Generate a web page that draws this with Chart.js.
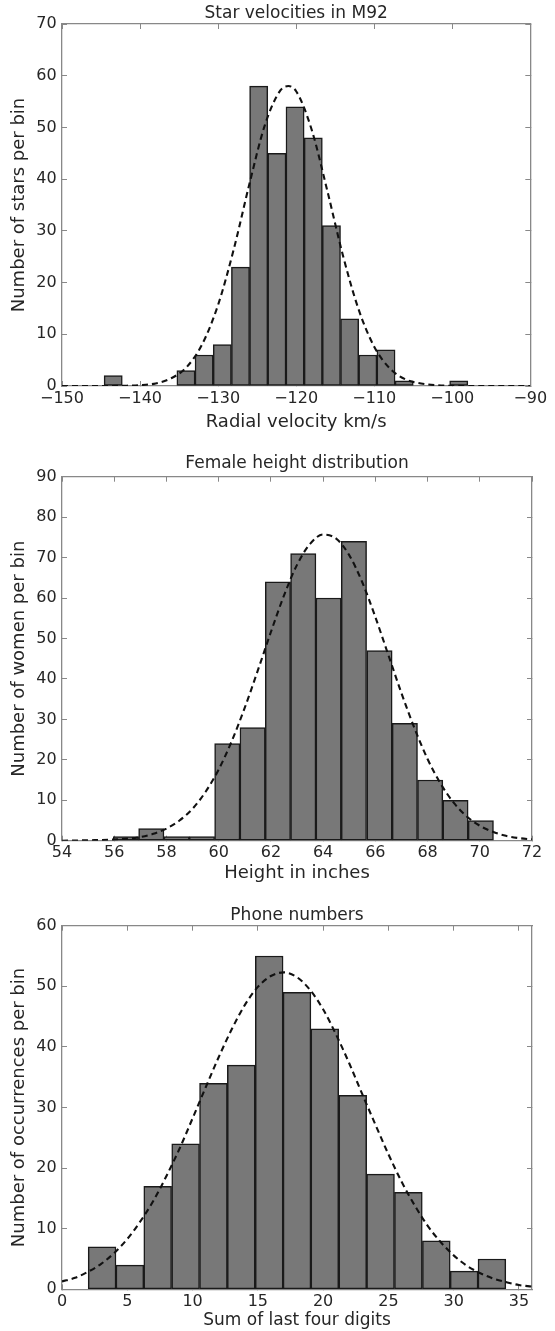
<!DOCTYPE html>
<html><head><meta charset="utf-8">
<script src="https://cdn.jsdelivr.net/npm/chart.js@4.4.1/dist/chart.umd.min.js"></script>
<style>
html,body{margin:0;padding:0;background:#fff;}
body{width:555px;height:1331px;position:relative;overflow:hidden;}
canvas{position:absolute;left:0;}
</style></head><body>
<canvas id="c1" width="555" height="440" style="top:0px"></canvas>
<canvas id="c2" width="555" height="450" style="top:440px"></canvas>
<canvas id="c3" width="555" height="441" style="top:890px"></canvas>
<script>
// ---------- Chart 1: Star velocities in M92 ----------
const starBinCenters = [-143.44,-141.11,-138.78,-136.45,-134.12,-131.79,-129.46,-127.13,-124.80,-122.47,-120.14,-117.81,-115.48,-113.15,-110.82,-108.49,-106.16,-103.83,-101.50,-99.17];
const starCounts = [2,0,0,0,3,6,8,23,58,45,54,48,31,13,6,7,1,0,0,1];
const starCurveX = [-150,-146,-142,-140,-138,-136,-134,-132,-130,-128,-126,-124,-122,-121,-120,-118,-116,-114,-112,-110,-108,-106,-104,-102,-100,-96,-90];
const starCurveY = [0,0,0.05,0.16,0.5,1.5,3.7,8.2,15.7,26.4,39,50.5,57.2,58,57,49.5,37.7,25.2,14.8,7.6,3.4,1.3,0.5,0.15,0.03,0,0];
const starXTicks = [-150,-140,-130,-120,-110,-100,-90];
const starYTicks = [0,10,20,30,40,50,60,70];

// ---------- Chart 2: Female height distribution ----------
const heightBinCenters = [56.45,57.42,58.39,59.36,60.33,61.30,62.27,63.24,64.21,65.18,66.16,67.13,68.10,69.07,70.04];
const heightCounts = [1,3,1,1,24,28,64,71,60,74,47,29,15,10,5];
const heightCurveX = [54,55,56,57,57.5,58,58.5,59,59.5,60,60.5,61,61.5,62,62.5,63,63.5,64,64.5,65,65.5,66,66.5,67,67.5,68,68.5,69,69.5,70,70.5,71,71.5,72];
const heightCurveY = [0,0.1,0.3,0.9,1.7,3.0,5.0,7.9,12.1,17.6,24.6,32.9,42.1,51.6,60.6,68.2,73.4,75.7,74.7,70.6,63.9,55.3,45.9,36.5,27.8,20.2,14.1,9.4,6.0,3.7,2.2,1.2,0.65,0.33];
const heightXTicks = [54,56,58,60,62,64,66,68,70,72];
const heightYTicks = [0,10,20,30,40,50,60,70,80,90];

// ---------- Chart 3: Phone numbers ----------
const phoneBinCenters = [3.07,5.20,7.33,9.47,11.60,13.73,15.87,18.00,20.13,22.27,24.40,26.53,28.67,30.80,32.93];
const phoneCounts = [7,4,17,24,34,37,55,49,43,32,19,16,8,3,5];
const phoneCurveX = [0,1,2,3,4,5,6,7,8,9,10,11,12,13,14,15,16,17,18,19,20,21,22,23,24,25,26,27,28,29,30,31,32,33,34,35,36];
const phoneCurveY = [1.3,1.9,2.9,4.2,6.0,8.3,11.2,14.6,18.7,23.2,28.2,33.3,38.3,42.9,46.9,49.9,51.7,52.3,51.5,49.4,46.2,42.0,37.3,32.2,27.2,22.3,17.8,13.9,10.5,7.8,5.6,3.9,2.7,1.8,1.2,0.7,0.45];
const phoneXTicks = [0,5,10,15,20,25,30,35];
const phoneYTicks = [0,10,20,30,40,50,60];

const FONT = "'DejaVu Sans', 'Liberation Sans', sans-serif";
const TEXT = '#262626';
const FRAME = '#888888';
const fmt = v => String(v).replace('-', '\u2212');

function makeChart(id, d, L) {
  const bars = d.centers.map((c, i) => ({x: c, y: d.counts[i]}));
  const curve = d.curveX.map((x, i) => ({x: x, y: d.curveY[i]}));
  const setX = s => { s.ticks = d.xTicks.map(v => ({value: v})); };
  const setY = s => { s.ticks = d.yTicks.map(v => ({value: v})); };
  const tickGrid = () => ({display: true, drawOnChartArea: false, drawTicks: true, tickLength: -5, color: FRAME, lineWidth: 1, offset: false});
  const border = () => ({display: true, color: FRAME, width: 1.3});
  return new Chart(document.getElementById(id), {
    type: 'bar',
    data: {datasets: [
      {type: 'line', data: curve, borderColor: '#111111', borderWidth: 2.1, borderDash: [6, 4],
       pointRadius: 0, fill: false, cubicInterpolationMode: 'monotone', order: 0},
      {type: 'bar', data: bars, backgroundColor: '#787878', borderColor: '#1a1a1a', borderWidth: 1.5,
       borderSkipped: false, barPercentage: 1, categoryPercentage: 1, order: 1}
    ]},
    options: {
      responsive: false, animation: false, events: [],
      layout: {padding: {left: 0, right: 23, top: 0, bottom: 0}},
      plugins: {legend: {display: false}, tooltip: {enabled: false}, title: {display: false}},
      scales: {
        x: {type: 'linear', position: 'bottom', min: d.xMin, max: d.xMax, offset: false,
            afterBuildTicks: setX, afterFit: s => { s.height = L.xH; },
            grid: tickGrid(), border: border(),
            ticks: {color: TEXT, font: {family: FONT, size: 16}, padding: L.xPad, maxRotation: 0, autoSkip: false,
                    callback: v => fmt(v)},
            title: {display: true, text: d.xTitle, color: TEXT, font: {family: FONT, size: L.xtSize},
                    padding: {top: 0, bottom: L.xtPad}}},
        x2: {type: 'linear', axis: 'x', position: 'top', min: d.xMin, max: d.xMax, offset: false,
             afterBuildTicks: setX, afterFit: s => { s.height = L.top; },
             grid: tickGrid(), border: border(), ticks: {display: false},
             title: {display: true, text: d.title, color: TEXT, font: {family: FONT, size: 17},
                     padding: {top: L.tTop, bottom: 0}}},
        y: {type: 'linear', position: 'left', min: 0, max: d.yMax,
            afterBuildTicks: setY, afterFit: s => { s.width = 62; },
            grid: tickGrid(), border: border(),
            ticks: {color: TEXT, font: {family: FONT, size: 16}, padding: 10.3, autoSkip: false},
            title: {display: true, text: d.yTitle, color: TEXT, font: {family: FONT, size: 18},
                    padding: {top: 8.2, bottom: 0}}},
        y2: {type: 'linear', axis: 'y', position: 'right', min: 0, max: d.yMax,
             afterBuildTicks: setY, afterFit: s => { s.width = 0; },
             grid: tickGrid(), border: border(), ticks: {display: false}}
      }
    }
  });
}

makeChart('c1', {
  centers: starBinCenters, counts: starCounts, curveX: starCurveX, curveY: starCurveY,
  xMin: -150, xMax: -90, xTicks: starXTicks, yMax: 70, yTicks: starYTicks,
  title: 'Star velocities in M92', xTitle: 'Radial velocity km/s', yTitle: 'Number of stars per bin'
}, {top: 24, tTop: 3.2, xH: 54, xPad: 7.8, xtSize: 18, xtPad: 7.2});

makeChart('c2', {
  centers: heightBinCenters, counts: heightCounts, curveX: heightCurveX, curveY: heightCurveY,
  xMin: 54, xMax: 72, xTicks: heightXTicks, yMax: 90, yTicks: heightYTicks,
  title: 'Female height distribution', xTitle: 'Height in inches', yTitle: 'Number of women per bin'
}, {top: 36.7, tTop: 13.8, xH: 49.3, xPad: 7.1, xtSize: 18, xtPad: 5.5});

makeChart('c3', {
  centers: phoneBinCenters, counts: phoneCounts, curveX: phoneCurveX, curveY: phoneCurveY,
  xMin: 0, xMax: 36, xTicks: phoneXTicks, yMax: 60, yTicks: phoneYTicks,
  title: 'Phone numbers', xTitle: 'Sum of last four digits', yTitle: 'Number of occurrences per bin'
}, {top: 35.7, tTop: 15.5, xH: 41.7, xPad: 7.5, xtSize: 17, xtPad: 0});
</script>
</body></html>
